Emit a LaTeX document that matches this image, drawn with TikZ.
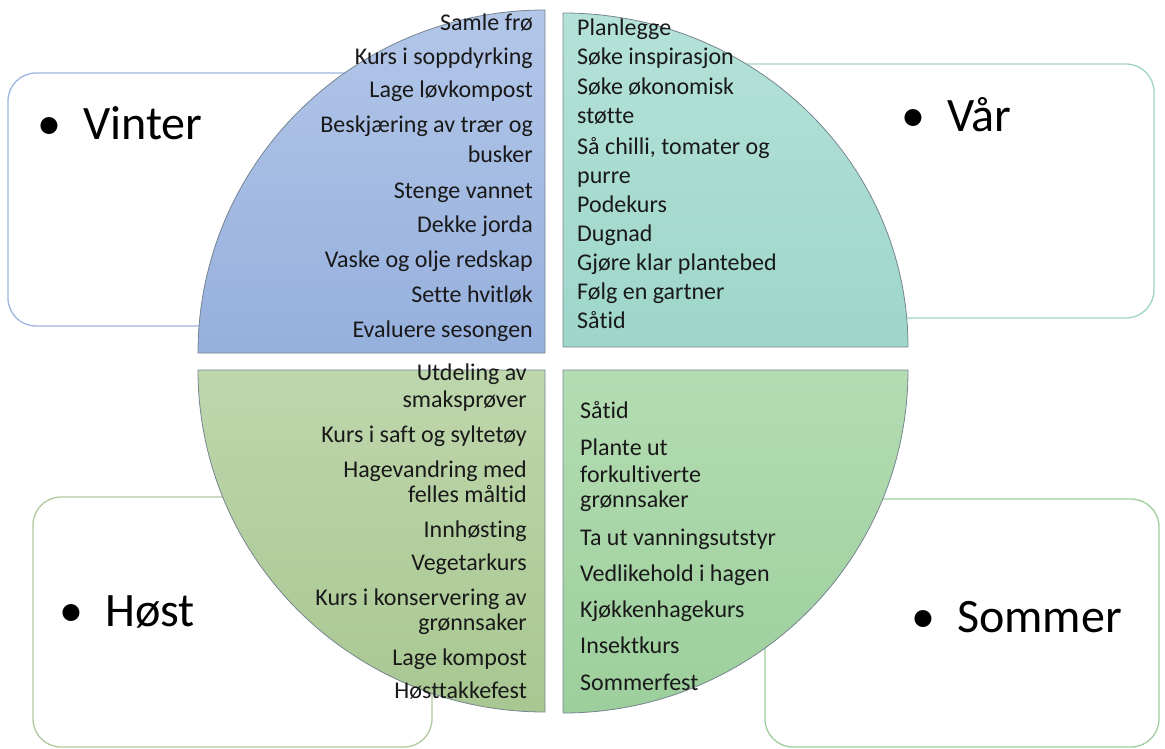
\documentclass[tikz,border=0pt]{standalone}
\usepackage{fontspec}
\setmainfont[Ligatures=NoCommon]{Carlito}
\definecolor{wtblue}{RGB}{150,176,221}
\definecolor{wtbluelt}{RGB}{178,198,232}
\definecolor{sprteal}{RGB}{158,214,202}
\definecolor{sprteallt}{RGB}{180,226,216}
\definecolor{autgreen}{RGB}{168,199,145}
\definecolor{autgreenlt}{RGB}{190,214,172}
\definecolor{sumgreen}{RGB}{156,207,156}
\definecolor{sumgreenlt}{RGB}{180,220,178}
\definecolor{edgegray}{RGB}{118,132,146}
\definecolor{wtline}{RGB}{158,182,224}
\definecolor{sprline}{RGB}{160,212,200}
\definecolor{autline}{RGB}{178,202,160}
\definecolor{sumline}{RGB}{160,206,160}

\begin{document}
\begin{tikzpicture}[x=1pt, y=1pt,
  seasonbox/.style={draw=#1, line width=1.3pt, rounded corners=28pt, inner sep=0pt, fill=white},
  quarter/.style={draw=edgegray, line width=0.8pt},
  heading/.style={inner sep=0pt, anchor=base west, font=\fontsize{48}{58}\selectfont},
  task/.style={inner sep=0pt, font=\fontsize{24}{28}\selectfont, text=black!90}]
\useasboundingbox (0,0) rectangle (1165,-749);

% Boxes behind the circle
\node[seasonbox=wtline, minimum width=432pt, minimum height=253pt] (vinterbox) at (224,-199.5) {};
\node[seasonbox=sprline, minimum width=464pt, minimum height=254pt] (varbox) at (922,-191) {};
\node[seasonbox=autline, minimum width=399pt, minimum height=250pt] (hostbox) at (232.5,-622) {};
\node[seasonbox=sumline, minimum width=394pt, minimum height=248pt] (sommerbox) at (962,-623) {};

% Quarters of the circle
\draw[quarter, top color=wtbluelt, bottom color=wtblue] (545,-353) -- (198,-353) arc[start angle=180, end angle=90, x radius=347, y radius=343] -- cycle;
\draw[quarter, top color=sprteallt, bottom color=sprteal] (563,-347) -- (563,-13) arc[start angle=90, end angle=0, x radius=345, y radius=334] -- cycle;
\draw[quarter, top color=autgreenlt, bottom color=autgreen] (545,-370) -- (198,-370) arc[start angle=180, end angle=270, x radius=347, y radius=342] -- cycle;
\draw[quarter, top color=sumgreenlt, bottom color=sumgreen] (563,-370) -- (908,-370) arc[start angle=0, end angle=-90, x radius=345, y radius=343] -- cycle;

% Headings
\node[heading] (vinter) at (37,-140) {\makebox[46pt][l]{•}Vinter};
\node[heading] (var) at (901,-132) {\makebox[46pt][l]{•}Vår};
\node[heading] (host) at (59,-626) {\makebox[46pt][l]{•}Høst};
\node[heading] (sommer) at (911,-632) {\makebox[46pt][l]{•}Sommer};

% Vinter
\foreach \yy/\txt [count=\i] in {31/Samle frø, 65/Kurs i soppdyrking, 98/Lage løvkompost,
    133/Beskjæring av trær og, 163/busker, 198/Stenge vannet, 232/Dekke jorda,
    267/Vaske og olje redskap, 302/Sette hvitløk, 337/Evaluere sesongen}
  \node[task, anchor=base east] (wt\i) at (533,-\yy) {\txt};

% Vår
\foreach \yy/\txt [count=\i] in {36/Planlegge, 65/Søke inspirasjon, 95/Søke økonomisk,
    124/støtte, 154/{Så chilli, tomater og}, 183/purre, 212/Podekurs, 241/Dugnad,
    270/Gjøre klar plantebed, 299/Følg en gartner, 328/Såtid}
  \node[task, anchor=base west] (sp\i) at (577,-\yy) {\txt};

% Høst
\foreach \yy/\txt [count=\i] in {380/Utdeling av, 407/smaksprøver, 442/Kurs i saft og syltetøy,
    477/Hagevandring med, 502/felles måltid, 537/Innhøsting, 570/Vegetarkurs,
    605/Kurs i konservering av, 630/grønnsaker, 665/Lage kompost, 698/Høsttakkefest}
  \node[task, anchor=base east] (au\i) at (527,-\yy) {\txt};

% Sommer
\foreach \yy/\txt [count=\i] in {418/Såtid, 455/Plante ut, 482/forkultiverte, 507/grønnsaker,
    545/Ta ut vanningsutstyr, 581/Vedlikehold i hagen, 617/Kjøkkenhagekurs,
    653/Insektkurs, 690/Sommerfest}
  \node[task, anchor=base west] (su\i) at (580,-\yy) {\txt};
\end{tikzpicture}
\end{document}
